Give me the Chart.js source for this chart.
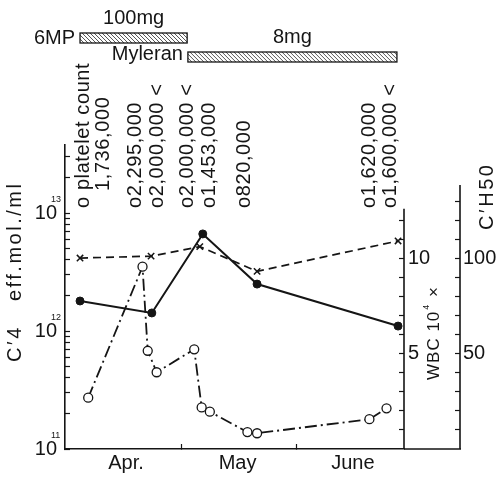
<!DOCTYPE html>
<html>
<head>
<meta charset="utf-8">
<script src="https://cdn.jsdelivr.net/npm/chart.js@4/dist/chart.umd.min.js"></script>
<style>
html,body{margin:0;padding:0;background:#fff;}
#wrap{width:498px;height:477px;}
</style>
</head>
<body>
<div id="wrap"><canvas id="c" width="498" height="477"></canvas></div>
<script>
// ---- data (x = days counted from April 1) ----
const monthLabels = ['Apr.', 'May', 'June'];
const monthStartDays = [0, 30, 61];

const wbcDays = [2.7, 21.8, 34.9, 50.3, 88.2];
const wbcValues = [10.0, 10.1, 10.6, 9.3, 10.9];

const ch50Days = [2.7, 22.0, 35.7, 50.3, 88.2];
const ch50Values = [77.4, 71.1, 112.7, 86.3, 64.2];

const c4Days = [4.9, 19.5, 20.9, 23.3, 33.4, 35.4, 37.6, 47.7, 50.3, 80.5, 85.1];
const c4Values = [2.72e11, 3.51e12, 6.8e11, 4.47e11, 7.0e11, 2.25e11, 2.07e11, 1.39e11, 1.36e11, 1.79e11, 2.21e11];

const plateletDays = [3.5, 8.9, 17.5, 23.4, 31.7, 37.6, 47.0, 80.4, 86.3];
const plateletTexts = ['o platelet count', '1,736,000', 'o2,295,000', 'o2,000,000 <', 'o2,000,000 <',
                       'o1,453,000', 'o820,000', 'o1,620,000', 'o1,600,000 <'];

const drugNames = ['6MP', 'Myleran'];
const drugDoses = ['100mg', '8mg'];
const drugStartDays = [2.7, 31.7];
const drugEndDays = [31.5, 87.9];

const c4Decades = [1e11, 1e12, 1e13];
const c4Exponents = ['11', '12', '13'];
const c4Multiples = [1, 2, 3, 4, 5, 6, 7, 8, 9];
const c4TickMax = 3e13;

const wbcTickValues = [1, 2, 3, 4, 5, 6, 7, 8, 9, 10, 11, 12];
const wbcLabelValues = [5, 10];
const wbcAxisTop = 12.6;

const chTickValues = [10, 20, 30, 40, 50, 60, 70, 80, 90, 100, 110, 120, 130];
const chLabelValues = [50, 100];
const chAxisTop = 138.5;

// ---- styling ----
const FAM = "'Liberation Sans', Arial, sans-serif";
const INK = '#151515';
Chart.defaults.font.family = FAM;
Chart.defaults.color = INK;

const toXY = (xs, ys) => xs.map((x, i) => ({x: x, y: ys[i]}));

const c4Ticks = [];
c4Decades.forEach(d => c4Multiples.forEach(m => { if (d * m <= c4TickMax) c4Ticks.push(d * m); }));

function rotText(ctx, text, x, y, align, font, spacing) {
  ctx.save();
  ctx.translate(x, y);
  ctx.rotate(-Math.PI / 2);
  ctx.font = font;
  if (spacing !== undefined) ctx.letterSpacing = spacing + 'px';
  ctx.textAlign = align;
  ctx.textBaseline = 'middle';
  ctx.fillStyle = INK;
  ctx.fillText(text, 0, 0);
  ctx.restore();
}

function hatchBar(ctx, x0, x1, y0, y1) {
  ctx.save();
  ctx.beginPath();
  ctx.rect(x0, y0, x1 - x0, y1 - y0);
  ctx.clip();
  ctx.beginPath();
  ctx.strokeStyle = '#555';
  ctx.lineWidth = 1;
  const h = y1 - y0;
  for (let x = x0 - h; x < x1 + h; x += 4) {
    ctx.moveTo(x, y0);
    ctx.lineTo(x + h, y1);
  }
  ctx.stroke();
  ctx.restore();
  ctx.save();
  ctx.strokeStyle = INK;
  ctx.lineWidth = 1.3;
  ctx.strokeRect(x0, y0, x1 - x0, y1 - y0);
  ctx.restore();
}

const decor = {
  id: 'decor',
  afterDraw(chart) {
    const ctx = chart.ctx;
    const s = chart.scales;
    const area = chart.chartArea;
    ctx.save();
    ctx.strokeStyle = INK;
    ctx.lineWidth = 1.6;
    ctx.beginPath();
    // WBC axis line
    ctx.moveTo(s.yWbc.left, s.yWbc.getPixelForValue(wbcAxisTop));
    ctx.lineTo(s.yWbc.left, area.bottom);
    // C'H50 axis line
    ctx.moveTo(s.yCh.left, s.yCh.getPixelForValue(chAxisTop));
    ctx.lineTo(s.yCh.left, area.bottom);
    // bottom line under the right axes
    ctx.moveTo(area.right, area.bottom);
    ctx.lineTo(s.yCh.left + 1, area.bottom);
    ctx.stroke();
    ctx.restore();

    // exponents of the log axis labels
    ctx.save();
    ctx.font = '9px ' + FAM;
    ctx.fillStyle = INK;
    ctx.textAlign = 'left';
    ctx.textBaseline = 'alphabetic';
    c4Decades.forEach((d, i) => {
      const py = s.yC4.getPixelForValue(d);
      ctx.fillText(c4Exponents[i], 51, py - 11);
    });
    ctx.restore();

    // axis titles
    rotText(ctx, 'C\u20324   eff.mol./ml', 15, 362, 'left', '20px ' + FAM, 2.5);
    rotText(ctx, 'C\u2032H50', 487, 230, 'left', '20px ' + FAM, 2.5);
    // WBC 10^4 x
    ctx.save();
    ctx.translate(434, 380);
    ctx.rotate(-Math.PI / 2);
    ctx.fillStyle = INK;
    ctx.textBaseline = 'middle';
    ctx.textAlign = 'left';
    ctx.font = '17px ' + FAM;
    ctx.letterSpacing = '1px';
    let t1 = 'WBC 10';
    ctx.fillText(t1, 0, 0);
    let w = ctx.measureText(t1).width;
    ctx.font = '9px ' + FAM;
    ctx.fillText('4', w + 1, -7);
    w += ctx.measureText('4').width + 2;
    ctx.font = '17px ' + FAM;
    ctx.fillText(' \u00d7', w, 0);
    ctx.restore();

    // drug administration bars
    const barRows = [[33, 43], [52, 62]];
    drugNames.forEach((name, i) => {
      const x0 = s.x.getPixelForValue(drugStartDays[i]);
      const x1 = s.x.getPixelForValue(drugEndDays[i]);
      const [y0, y1] = barRows[i];
      hatchBar(ctx, x0, x1, y0, y1);
      ctx.save();
      ctx.fillStyle = INK;
      ctx.font = '20px ' + FAM;
      ctx.textBaseline = 'middle';
      ctx.textAlign = 'right';
      ctx.fillText(name, x0 - 5, (y0 + y1) / 2 + (i === 0 ? 0 : -3));
      ctx.textAlign = 'center';
      ctx.fillText(drugDoses[i], (x0 + x1) / 2, y0 - 15);
      ctx.restore();
    });

    // platelet counts
    plateletTexts.forEach((txt, i) => {
      const px = s.x.getPixelForValue(plateletDays[i]);
      const indent = txt.startsWith('o') ? 0 : 17;
      rotText(ctx, txt, px, 208 - indent, 'left', '20px ' + FAM, 0.6);
    });
  }
};

const tickFont = {family: FAM, size: 20};

new Chart(document.getElementById('c'), {
  type: 'line',
  data: {
    datasets: [
      {
        label: 'WBC',
        data: toXY(wbcDays, wbcValues),
        yAxisID: 'yWbc',
        borderColor: INK,
        borderWidth: 1.7,
        borderDash: [8, 5],
        pointStyle: 'crossRot',
        pointRadius: 4.5,
        pointBorderWidth: 1.5,
        pointBorderColor: INK,
        pointBackgroundColor: INK,
        tension: 0,
        fill: false
      },
      {
        label: "C'H50",
        data: toXY(ch50Days, ch50Values),
        yAxisID: 'yCh',
        borderColor: INK,
        borderWidth: 2,
        pointStyle: 'circle',
        pointRadius: 4,
        pointBorderWidth: 1,
        pointBorderColor: INK,
        pointBackgroundColor: INK,
        tension: 0,
        fill: false
      },
      {
        label: "C'4",
        data: toXY(c4Days, c4Values),
        yAxisID: 'yC4',
        borderColor: INK,
        borderWidth: 1.8,
        borderDash: [12, 4, 2, 4],
        pointStyle: 'circle',
        pointRadius: 4.5,
        pointBorderWidth: 1.3,
        pointBorderColor: INK,
        pointBackgroundColor: '#fff',
        tension: 0,
        fill: false
      }
    ]
  },
  options: {
    responsive: false,
    animation: false,
    devicePixelRatio: 1,
    layout: {padding: {top: 145, left: 0, right: 0, bottom: 0}},
    plugins: {legend: {display: false}, tooltip: {enabled: false}, title: {display: false}},
    scales: {
      x: {
        type: 'linear',
        position: 'bottom',
        min: -1.34,
        max: 89.8,
        afterBuildTicks: sc => { sc.ticks = monthStartDays.map(v => ({value: v})); },
        afterFit: sc => { sc.height = 28; },
        grid: {drawOnChartArea: false, drawTicks: true, tickLength: -5, tickWidth: 1.2,
               tickColor: c => (c.index === 0 ? 'rgba(0,0,0,0)' : INK)},
        border: {display: true, color: INK, width: 1.6},
        ticks: {
          font: tickFont, color: INK, padding: 7, labelOffset: 56, maxRotation: 0, autoSkip: false,
          callback: (v, i) => monthLabels[i]
        }
      },
      yC4: {
        type: 'logarithmic',
        position: 'left',
        min: 1e11,
        max: 3.77e13,
        afterBuildTicks: sc => { sc.ticks = c4Ticks.map(v => ({value: v})); },
        afterFit: sc => { sc.width = 65; },
        grid: {drawOnChartArea: false, drawTicks: true, tickLength: -5, tickWidth: 1.2, tickColor: INK},
        border: {display: true, color: INK, width: 1.6},
        ticks: {
          font: tickFont, color: INK, padding: 13, autoSkip: false,
          callback: v => (c4Decades.includes(v) ? '10' : '')
        }
      },
      yWbc: {
        type: 'linear',
        position: 'right',
        weight: 0,
        min: -0.05,
        max: 15.95,
        afterBuildTicks: sc => { sc.ticks = wbcTickValues.map(v => ({value: v})); },
        afterFit: sc => { sc.width = 56; },
        grid: {drawOnChartArea: false, drawTicks: true, tickLength: -5, tickWidth: 1.2, tickColor: INK},
        border: {display: false},
        ticks: {
          font: tickFont, color: INK, padding: 9, autoSkip: false,
          callback: v => (wbcLabelValues.includes(v) ? String(v) : '')
        }
      },
      yCh: {
        type: 'linear',
        position: 'right',
        weight: 1,
        min: -0.5,
        max: 159.5,
        afterBuildTicks: sc => { sc.ticks = chTickValues.map(v => ({value: v})); },
        afterFit: sc => { sc.width = 38; },
        grid: {drawOnChartArea: false, drawTicks: true, tickLength: -5, tickWidth: 1.2, tickColor: INK},
        border: {display: false},
        ticks: {
          font: tickFont, color: INK, padding: 8, autoSkip: false,
          callback: v => (chLabelValues.includes(v) ? String(v) : '')
        }
      }
    }
  },
  plugins: [decor]
});
</script>
</body>
</html>
